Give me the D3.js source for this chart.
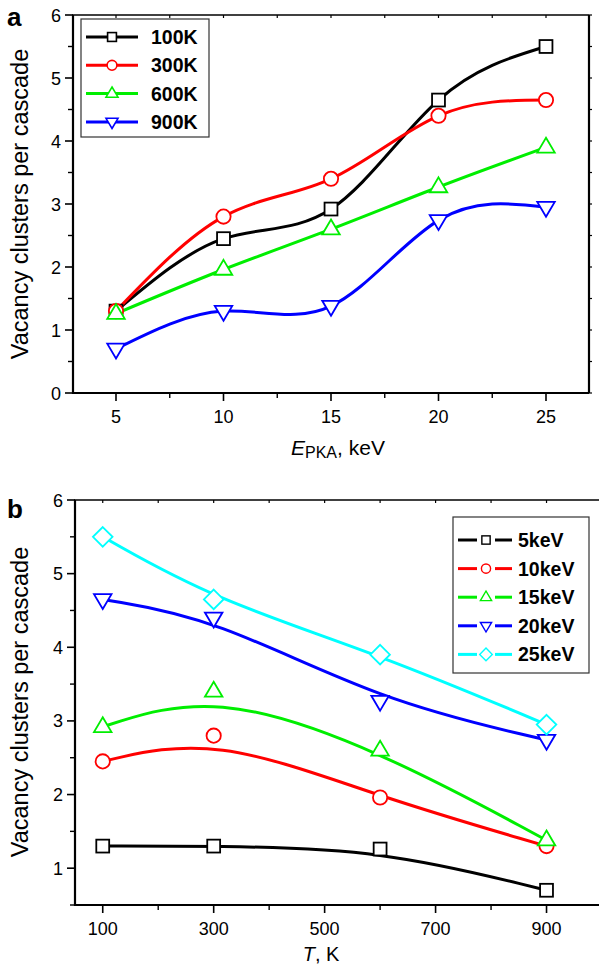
<!DOCTYPE html>
<meta charset="utf-8">
<style>
  body { margin: 0; background: #fff; }
  svg { display: block; font-family: "Liberation Sans", Arial, sans-serif; }
</style>
<body>
<div id="chart"></div>
<script src="https://d3js.org/d3.v7.min.js"></script>
<script>

// data
var energies = [5, 10, 15, 20, 25];
var temps = [100, 300, 600, 900];
var tempNames = ["100K", "300K", "600K", "900K"];
var energyNames = ["5keV", "10keV", "15keV", "20keV", "25keV"];

// clusters per cascade, one array per temperature, indexed by energy
var v100 = [1.3, 2.45, 2.92, 4.65, 5.5];
var v300 = [1.3, 2.8, 3.4, 4.4, 4.65];
var v600 = [1.26, 1.96, 2.6, 3.27, 3.9];
var v900 = [0.7, 1.3, 1.38, 2.74, 2.95];

var xTicksA = [5, 10, 15, 20, 25];
var yTicksA = [0, 1, 2, 3, 4, 5, 6];
var xTicksB = [100, 300, 500, 700, 900];
var yTicksB = [1, 2, 3, 4, 5, 6];

var byTemp = [v100, v300, v600, v900];
var tempColors = ["#000000", "#ff0000", "#00ee00", "#0000ff"];
var tempShapes = ["square", "circle", "up", "down"];
var energyColors = ["#000000", "#ff0000", "#00ee00", "#0000ff", "#00ffff"];
var energyShapes = ["square", "circle", "up", "down", "diamond"];

var svg = d3.select("#chart").append("svg")
  .attr("width", 599).attr("height", 966);

function marker(g, shape, cx, cy, s, color, sw) {
  var m;
  if (shape == "square") {
    m = g.append("rect").attr("x", cx - s * 0.92).attr("y", cy - s * 0.92)
      .attr("width", 1.84 * s).attr("height", 1.84 * s);
  } else if (shape == "circle") {
    m = g.append("circle").attr("cx", cx).attr("cy", cy).attr("r", s * 1.02);
  } else {
    var k = s * 1.25, pts;
    if (shape == "up") pts = [[cx, cy - k * 1.1], [cx + k, cy + k * 0.6], [cx - k, cy + k * 0.6]];
    if (shape == "down") pts = [[cx, cy + k * 1.1], [cx + k, cy - k * 0.6], [cx - k, cy - k * 0.6]];
    if (shape == "diamond") { k = s * 1.4; pts = [[cx, cy - k], [cx + k, cy], [cx, cy + k], [cx - k, cy]]; }
    m = g.append("polygon").attr("points", pts.map(function(p) { return p.join(","); }).join(" "));
  }
  m.attr("fill", "#fff").attr("stroke", color).attr("stroke-width", sw);
}

function frame(g, x, y, xTicks, xMinor, yTicks, yMinor, topTicks, drawRight) {
  var x0 = x.range()[0], x1 = x.range()[1], y0 = y.range()[0], y1 = y.range()[1];
  var ax = g.append("g").attr("stroke", "#000");
  // axis lines
  ax.append("line").attr("x1", x0).attr("x2", x0).attr("y1", y0 + 1).attr("y2", y1).attr("stroke-width", 2.2);
  ax.append("line").attr("x1", x0 - 1).attr("x2", x1).attr("y1", y0).attr("y2", y0).attr("stroke-width", 2.2);
  ax.append("line").attr("x1", x0 - 1).attr("x2", x1).attr("y1", y1).attr("y2", y1).attr("stroke-width", 1.6);
  if (drawRight)
    ax.append("line").attr("x1", x1).attr("x2", x1).attr("y1", y0).attr("y2", y1).attr("stroke-width", 2.2);
  xTicks.forEach(function(t) {
    ax.append("line").attr("x1", x(t)).attr("x2", x(t)).attr("y1", y0).attr("y2", y0 + 8).attr("stroke-width", 1.6);
  });
  xMinor.forEach(function(t) {
    ax.append("line").attr("x1", x(t)).attr("x2", x(t)).attr("y1", y0).attr("y2", y0 + 5).attr("stroke-width", 1.4);
  });
  topTicks.forEach(function(t) {
    ax.append("line").attr("x1", x(t)).attr("x2", x(t)).attr("y1", y1).attr("y2", y1 + 3).attr("stroke-width", 1.2);
  });
  yTicks.forEach(function(t) {
    ax.append("line").attr("x1", x0).attr("x2", x0 - 8).attr("y1", y(t)).attr("y2", y(t)).attr("stroke-width", 1.6);
    if (drawRight)
      ax.append("line").attr("x1", x1).attr("x2", x1 + 3).attr("y1", y(t)).attr("y2", y(t)).attr("stroke-width", 1.2);
  });
  yMinor.forEach(function(t) {
    ax.append("line").attr("x1", x0).attr("x2", x0 - 5).attr("y1", y(t)).attr("y2", y(t)).attr("stroke-width", 1.4);
    if (drawRight)
      ax.append("line").attr("x1", x1).attr("x2", x1 + 3).attr("y1", y(t)).attr("y2", y(t)).attr("stroke-width", 1.2);
  });
  var lab = g.append("g").attr("font-size", 18).attr("fill", "#000");
  xTicks.forEach(function(t) {
    lab.append("text").attr("x", x(t)).attr("y", y0 + 30).attr("text-anchor", "middle").text(t);
  });
  yTicks.forEach(function(t) {
    lab.append("text").attr("x", x0 - 12).attr("y", y(t) + 6.5).attr("text-anchor", "end").text(t);
  });
}

// ---------- panel a ----------
var xa = d3.scaleLinear().domain([3, 27]).range([73, 589]);
var ya = d3.scaleLinear().domain([0, 6]).range([393, 15]);
var ga = svg.append("g");

frame(ga, xa, ya, xTicksA, [7.5, 12.5, 17.5, 22.5],
  yTicksA, [0.5, 1.5, 2.5, 3.5, 4.5, 5.5],
  [5, 7.5, 10, 12.5, 15, 17.5, 20, 22.5, 25], true);

var lineA = d3.line().curve(d3.curveNatural)
  .x(function(d) { return xa(d[0]); }).y(function(d) { return ya(d[1]); });

byTemp.forEach(function(vals, i) {
  var pts = energies.map(function(e, j) { return [e, vals[j]]; });
  ga.append("path").attr("d", lineA(pts)).attr("fill", "none")
    .attr("stroke", tempColors[i]).attr("stroke-width", 3);
});
byTemp.forEach(function(vals, i) {
  energies.forEach(function(e, j) {
    marker(ga, tempShapes[i], xa(e), ya(vals[j]), 7, tempColors[i], 1.8);
  });
});

// legend a
var la = ga.append("g");
la.append("rect").attr("x", 81).attr("y", 19).attr("width", 128).attr("height", 118)
  .attr("fill", "#fff").attr("stroke", "#333").attr("stroke-width", 1.2);
tempNames.forEach(function(n, i) {
  var yy = 37 + i * 28.3;
  la.append("line").attr("x1", 86).attr("x2", 138).attr("y1", yy).attr("y2", yy)
    .attr("stroke", tempColors[i]).attr("stroke-width", 3);
  marker(la, tempShapes[i], 112, yy, 4.8, tempColors[i], 1.6);
  la.append("text").attr("x", 151).attr("y", yy + 7).attr("font-size", 19.5)
    .attr("font-weight", "bold").text(n);
});

ga.append("text").attr("x", 7).attr("y", 26).attr("font-size", 26)
  .attr("font-weight", "bold").text("a");

ga.append("text").attr("transform", "translate(28,204) rotate(-90)")
  .attr("text-anchor", "middle").attr("font-size", 23.5).text("Vacancy clusters per cascade");

var xta = ga.append("text").attr("x", 291).attr("y", 455).attr("font-size", 21);
xta.append("tspan").attr("font-style", "italic").text("E");
xta.append("tspan").attr("font-size", 16).attr("dy", 3).text("PKA");
xta.append("tspan").attr("dy", -3).text(", keV");

// ---------- panel b ----------
var xb = d3.scaleLinear().domain([50, 1000]).range([75, 602]);
var yb = d3.scaleLinear().domain([0.5, 6]).range([905, 500]);
var gb = svg.append("g");

frame(gb, xb, yb, xTicksB, [200, 400, 600, 800],
  yTicksB, [0.5, 1.5, 2.5, 3.5, 4.5, 5.5],
  [100, 200, 300, 400, 500, 600, 700, 800, 900], false);

var lineB = d3.line().curve(d3.curveBasis)
  .x(function(d) { return xb(d[0]); }).y(function(d) { return yb(d[1]); });

energies.forEach(function(e, j) {
  var pts = temps.map(function(t, i) { return [t, byTemp[i][j]]; });
  gb.append("path").attr("d", lineB(pts)).attr("fill", "none")
    .attr("stroke", energyColors[j]).attr("stroke-width", 3);
});
energies.forEach(function(e, j) {
  temps.forEach(function(t, i) {
    marker(gb, energyShapes[j], xb(t), yb(byTemp[i][j]), 7, energyColors[j], 1.8);
  });
});

// legend b
var lb = gb.append("g");
lb.append("rect").attr("x", 453).attr("y", 517).attr("width", 136).attr("height", 156)
  .attr("fill", "#fff").attr("stroke", "#333").attr("stroke-width", 1.2);
energyNames.forEach(function(n, j) {
  var yy = 540 + j * 28.6;
  lb.append("line").attr("x1", 458).attr("x2", 477).attr("y1", yy).attr("y2", yy)
    .attr("stroke", energyColors[j]).attr("stroke-width", 3);
  lb.append("line").attr("x1", 495).attr("x2", 512).attr("y1", yy).attr("y2", yy)
    .attr("stroke", energyColors[j]).attr("stroke-width", 3);
  marker(lb, energyShapes[j], 486, yy, 4.5, energyColors[j], 1.4);
  lb.append("text").attr("x", 518).attr("y", yy + 7).attr("font-size", 19.5)
    .attr("font-weight", "bold").text(n);
});

gb.append("text").attr("x", 7).attr("y", 518).attr("font-size", 26)
  .attr("font-weight", "bold").text("b");

gb.append("text").attr("transform", "translate(28,702) rotate(-90)")
  .attr("text-anchor", "middle").attr("font-size", 23.5).text("Vacancy clusters per cascade");

var xtb = gb.append("text").attr("x", 321).attr("y", 961).attr("font-size", 20)
  .attr("text-anchor", "middle");
xtb.append("tspan").attr("font-style", "italic").text("T");
xtb.append("tspan").text(", K");

</script>
</body>
